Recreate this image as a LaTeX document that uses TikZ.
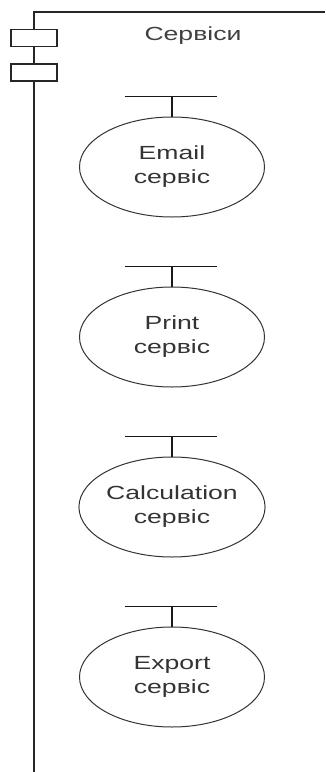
\documentclass[tikz,border=0pt]{standalone}
\usepackage{fontspec}
\setmainfont[FakeStretch=1.4]{Liberation Sans}
\usetikzlibrary{shapes.geometric,calc}
\begin{document}
\begin{tikzpicture}[x=1pt,y=-1pt,
  frameline/.style={line width=1.5pt,draw=black!85},
  compbox/.style={draw=black!85,line width=1.3pt,fill=white,minimum width=46pt,minimum height=17pt,inner sep=0pt},
  svc/.style={ellipse,draw=black!80,line width=1pt,minimum width=185pt,minimum height=100pt,inner sep=0pt,align=center,font=\fontsize{19}{24}\selectfont,text=black!80},
  iface/.style={line width=1.3pt,draw=black!90},
  title/.style={font=\fontsize{19}{22}\selectfont,text=black!75}]
\useasboundingbox (0,0) rectangle (325,772);
\coordinate (ftop) at (34,12);
\coordinate (fright) at (325,12);
\coordinate (fbot) at (34,772);
\draw[frameline] (fright) -- (ftop) -- (fbot);
\node[compbox] (c1) at (34,38) {};
\node[compbox] (c2) at (34,72.5) {};
\node[title] (t) at (193,36) {Сервіси};
\foreach \n/\lab/\yy in {e/Email/167, p/Print/337, c/Calculation/507, x/Export/677}{
  \node[svc] (\n) at (172,\yy) {\lab\\сервіс};
  \coordinate (\n s) at ($(\n.north)+(0,-20)$);
  \coordinate (\n l) at ($(\n s)+(-47,0)$);
  \coordinate (\n r) at ($(\n s)+(45,0)$);
  \draw[iface] (\n.north) -- (\n s);
  \draw[iface] (\n l) -- (\n r);
}
\end{tikzpicture}
\end{document}
